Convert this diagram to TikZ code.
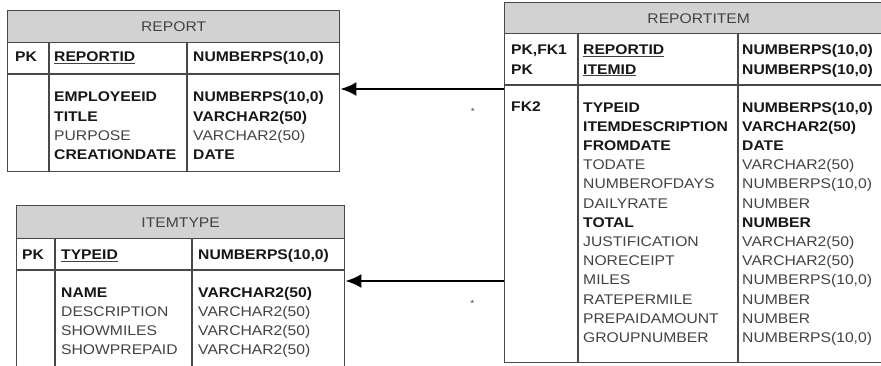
\documentclass[tikz,border=0pt]{standalone}
\usepackage{fontspec}
\setmainfont[FakeStretch=1.12]{Liberation Sans}
\usepackage{xcolor}
\definecolor{bordergray}{RGB}{72,72,72}
\definecolor{headgray}{RGB}{210,210,210}
\definecolor{txtgray}{RGB}{66,66,66}
\definecolor{boldtxt}{RGB}{22,22,22}
\usepackage{tikz}
\usetikzlibrary{arrows.meta,positioning}
\newcommand{\kf}[1]{\textbf{\color{boldtxt}#1}}
\newcommand{\pkf}[1]{\underline{\kf{#1}}}

\begin{document}
\begin{tikzpicture}[x=1pt,y=-1pt,font=\fontsize{14}{19.2}\selectfont]
  \tikzstyle{tbl}=[rectangle,draw=bordergray,line width=1.4pt,anchor=north west,inner sep=0pt]
  \tikzstyle{hdr}=[tbl,fill=headgray,text=txtgray]
  \tikzstyle{cell}=[anchor=base west,inner sep=0pt,align=left,text=txtgray]
  \tikzstyle{sep}=[draw=bordergray,line width=1.4pt]
  \tikzstyle{fk}=[draw=black,line width=2.4pt,-{Latex[length=16pt,width=14pt]}]
  \tikzstyle{mult}=[font=\fontsize{9}{10}\selectfont,inner sep=0pt,text=txtgray]

  \useasboundingbox (0,0) rectangle (881,366);
  \clip (0,0) rectangle (881,366);

  \node[tbl,minimum width=332pt,minimum height=161pt] (rep) at (7,10) {};
  \node[hdr,minimum width=332pt,minimum height=32pt] (rephd) at (7,10) {REPORT};
  \draw[sep] (7,74) -- (339,74);
  \draw[sep] (49,42) -- (49,171);
  \draw[sep] (187,42) -- (187,171);
  \node[cell] (reppk) at (15,62) {\kf{PK}};
  \node[cell] (repkey) at (54,62) {\pkf{REPORTID}};
  \node[cell] (repkeyt) at (193,62) {\kf{NUMBERPS(10,0)}};
  \node[cell] (repcols) at (54,159.6) {\kf{EMPLOYEEID}\\\kf{TITLE}\\PURPOSE\\\kf{CREATIONDATE}};
  \node[cell] (reptypes) at (193,159.6) {\kf{NUMBERPS(10,0)}\\\kf{VARCHAR2(50)}\\VARCHAR2(50)\\\kf{DATE}};

  \node[tbl,minimum width=328pt,minimum height=175pt] (it) at (16,205) {};
  \node[hdr,minimum width=328pt,minimum height=33pt] (ithd) at (16,205) {ITEMTYPE};
  \draw[sep] (16,270) -- (344,270);
  \draw[sep] (55,238) -- (55,380);
  \draw[sep] (192,238) -- (192,380);
  \node[cell] (itpk) at (22,260) {\kf{PK}};
  \node[cell] (itkey) at (61,260) {\pkf{TYPEID}};
  \node[cell] (itkeyt) at (198,260) {\kf{NUMBERPS(10,0)}};
  \node[cell] (itcols) at (61,354.6) {\kf{NAME}\\DESCRIPTION\\SHOWMILES\\SHOWPREPAID};
  \node[cell] (ittypes) at (198,354.6) {\kf{VARCHAR2(50)}\\VARCHAR2(50)\\VARCHAR2(50)\\VARCHAR2(50)};

  \node[tbl,minimum width=388pt,minimum height=360pt] (ri) at (504,2) {};
  \node[hdr,minimum width=388pt,minimum height=31pt] (rihd) at (504,2) {REPORTITEM};
  \draw[sep] (504,85) -- (892,85);
  \draw[sep] (578,33) -- (578,362);
  \draw[sep] (738,33) -- (738,362);
  \node[cell] (ripk) at (511,74.2) {\kf{PK,FK1}\\\kf{PK}};
  \node[cell] (rikey) at (583,74.2) {\pkf{REPORTID}\\\pkf{ITEMID}};
  \node[cell] (rikeyt) at (742,74.2) {\kf{NUMBERPS(10,0)}\\\kf{NUMBERPS(10,0)}};
  \node[cell] (rifk) at (511,112) {\kf{FK2}};
  \node[cell] (ricols) at (583,342.4) {\kf{TYPEID}\\\kf{ITEMDESCRIPTION}\\\kf{FROMDATE}\\TODATE\\NUMBEROFDAYS\\DAILYRATE\\\kf{TOTAL}\\JUSTIFICATION\\NORECEIPT\\MILES\\RATEPERMILE\\PREPAIDAMOUNT\\GROUPNUMBER};
  \node[cell] (ritypes) at (742,342.4) {\kf{NUMBERPS(10,0)}\\\kf{VARCHAR2(50)}\\\kf{DATE}\\VARCHAR2(50)\\NUMBERPS(10,0)\\NUMBER\\\kf{NUMBER}\\VARCHAR2(50)\\VARCHAR2(50)\\NUMBERPS(10,0)\\NUMBER\\NUMBER\\NUMBERPS(10,0)};

  \coordinate (fk1) at (0,89);
  \coordinate (fk2) at (0,281);
  \draw[fk] (ri.west |- fk1) -- (rep.east |- fk1) node[mult,pos=0.19,yshift=-22pt] (m1) {*};
  \draw[fk] (ri.west |- fk2) -- (it.east |- fk2) node[mult,pos=0.2,yshift=-22pt] (m2) {*};
\end{tikzpicture}
\end{document}
